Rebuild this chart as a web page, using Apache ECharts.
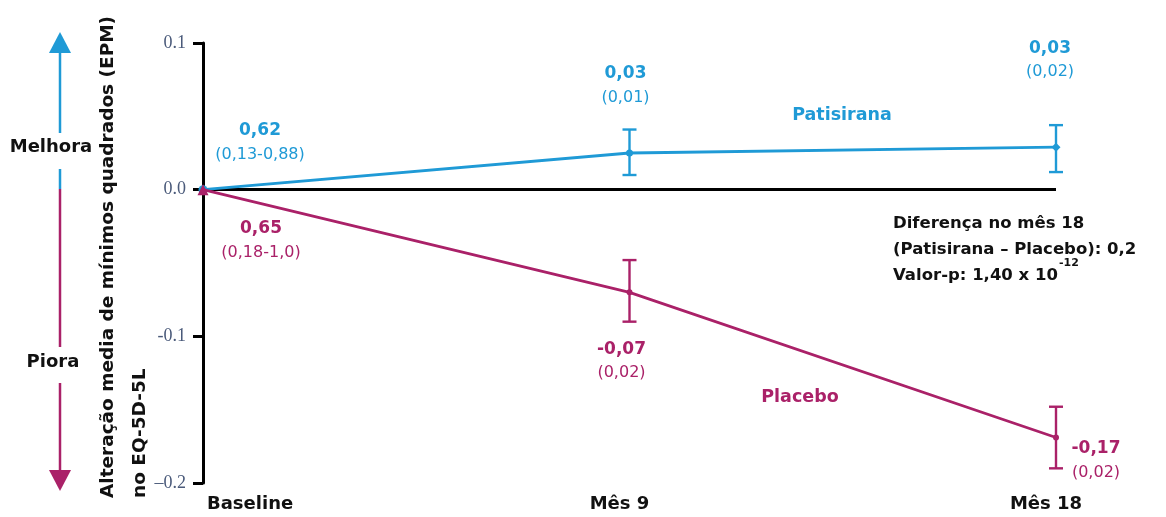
<!DOCTYPE html>
<html>
<head>
<meta charset="utf-8">
<script src="https://cdn.jsdelivr.net/npm/echarts@6/dist/echarts.min.js"></script>
<style>
html,body{margin:0;padding:0;background:#fff;}
#chart{width:1166px;height:517px;}
</style>
</head>
<body>
<div id="chart"></div>
<script>
// ---- data ----
const categories = ['Baseline', 'Mês 9', 'Mês 18'];
const patisirana = [0, 0.025, 0.029];
const patisiranaLow = [null, 0.010, 0.012];
const patisiranaHigh = [null, 0.041, 0.044];
const placebo = [0, -0.070, -0.169];
const placeboLow = [null, -0.090, -0.190];
const placeboHigh = [null, -0.048, -0.148];
const patisiranaMain = ['0,62', '0,03', '0,03'];
const patisiranaSub = ['(0,13-0,88)', '(0,01)', '(0,02)'];
const placeboMain = ['0,65', '-0,07', '-0,17'];
const placeboSub = ['(0,18-1,0)', '(0,02)', '(0,02)'];
const yTickValues = [-0.2, -0.1, 0.0, 0.1];
const yTickLabels = ['\u20130.2', '-0.1', '0.0', '0.1'];
const seriesNames = ['Patisirana', 'Placebo'];
const axisTitle = ['Alteração media de mínimos quadrados (EPM)', 'no EQ-5D-5L'];
const noteLines = ['Diferença no mês 18', '(Patisirana \u2013 Placebo): 0,2', 'Valor-p: 1,40 x 10', '-12'];

// ---- style ----
const BLUE = '#1f9ad6';
const MAGENTA = '#aa2168';
const FONT = '"DejaVu Sans", Verdana, sans-serif';

const chart = echarts.init(document.getElementById('chart'));

function makeRich(color) {
  return {
    m: {fontFamily: FONT, fontWeight: 'bold', fontSize: 17, color: color, lineHeight: 24, align: 'center'},
    s: {fontFamily: FONT, fontSize: 16, color: color, lineHeight: 24, align: 'center'}
  };
}

const patOffsets = [[57, -47], [-4, -67], [-6, -87]];
const plaOffsets = [[58, 51], [-8, 69], [40, 23]];
const patSymbols = [['circle', 9], ['circle', 7], ['diamond', 9]];
const plaSymbols = [['triangle', 11], ['circle', 6], ['circle', 6]];

function buildData(values, mains, subs, offsets, symbols, color) {
  return values.map((v, i) => ({
    value: v,
    symbol: symbols[i][0],
    symbolSize: symbols[i][1],
    label: {
      show: true,
      position: 'inside',
      offset: offsets[i],
      formatter: '{m|' + mains[i] + '}\n{s|' + subs[i] + '}',
      rich: makeRich(color)
    }
  }));
}

function errData(low, high) {
  const out = [];
  for (let i = 0; i < low.length; i++) {
    if (low[i] !== null) out.push([i, low[i], high[i]]);
  }
  return out;
}

function errRender(color) {
  return function (params, api) {
    const x = api.value(0);
    const lo = api.coord([x, api.value(1)]);
    const hi = api.coord([x, api.value(2)]);
    const w = 7;
    const st = {stroke: color, lineWidth: 2.4};
    return {
      type: 'group',
      children: [
        {type: 'line', shape: {x1: lo[0], y1: lo[1], x2: hi[0], y2: hi[1]}, style: st},
        {type: 'line', shape: {x1: lo[0] - w, y1: lo[1], x2: lo[0] + w, y2: lo[1]}, style: st},
        {type: 'line', shape: {x1: hi[0] - w, y1: hi[1], x2: hi[0] + w, y2: hi[1]}, style: st}
      ]
    };
  };
}

const option = {
  animation: false,
  backgroundColor: '#fff',
  grid: {left: 203, right: 110, top: 43, bottom: 34, containLabel: false},
  xAxis: {
    type: 'category',
    data: categories,
    boundaryGap: false,
    axisLine: {show: false},
    axisTick: {show: false},
    splitLine: {show: false},
    axisLabel: {
      margin: 12,
      fontFamily: FONT,
      fontWeight: 'bold',
      fontSize: 18,
      color: '#111',
      alignMinLabel: 'left',
      padding: [0, 24, 0, 4]
    }
  },
  yAxis: {
    type: 'value',
    min: yTickValues[0],
    max: yTickValues[yTickValues.length - 1],
    interval: 0.1,
    axisLine: {show: true, lineStyle: {color: '#000', width: 3}},
    axisTick: {show: true, length: 10, lineStyle: {color: '#000', width: 3}},
    splitLine: {show: false},
    axisLabel: {
      margin: 17,
      fontFamily: '"Liberation Serif", "Times New Roman", serif',
      fontSize: 18,
      color: '#4a5a7a',
      formatter: function (v) {
        const idx = yTickValues.findIndex(t => Math.abs(t - v) < 1e-9);
        return idx >= 0 ? yTickLabels[idx] : '';
      }
    }
  },
  series: [
    {
      name: seriesNames[0],
      type: 'line',
      data: buildData(patisirana, patisiranaMain, patisiranaSub, patOffsets, patSymbols, BLUE),
      lineStyle: {color: BLUE, width: 2.8},
      itemStyle: {color: BLUE},
      z: 4,
      markLine: {
        silent: true,
        symbol: ['none', 'none'],
        label: {show: false},
        lineStyle: {color: '#000', width: 3, type: 'solid'},
        data: [{yAxis: 0}],
        z: 1
      }
    },
    {
      name: seriesNames[1],
      type: 'line',
      data: buildData(placebo, placeboMain, placeboSub, plaOffsets, plaSymbols, MAGENTA),
      lineStyle: {color: MAGENTA, width: 2.8},
      itemStyle: {color: MAGENTA},
      z: 5
    },
    {
      type: 'custom',
      renderItem: errRender(BLUE),
      data: errData(patisiranaLow, patisiranaHigh),
      encode: {x: 0, y: [1, 2]},
      z: 3
    },
    {
      type: 'custom',
      renderItem: errRender(MAGENTA),
      data: errData(placeboLow, placeboHigh),
      encode: {x: 0, y: [1, 2]},
      z: 3
    }
  ],
  graphic: [
    // y axis title
    {
      type: 'text', x: 124, y: 498, rotation: Math.PI / 2,
      style: {
        text: axisTitle.join('\n'),
        fontFamily: FONT, fontWeight: 'bold', fontSize: 18.5, lineHeight: 32,
        fill: '#111', textAlign: 'left', textVerticalAlign: 'middle'
      }
    },
    // improvement arrow
    {type: 'line', shape: {x1: 60, y1: 52, x2: 60, y2: 133}, style: {stroke: BLUE, lineWidth: 2.5}},
    {type: 'polygon', shape: {points: [[60, 32], [49, 53], [71, 53]]}, style: {fill: BLUE}},
    {type: 'text', x: 51, y: 147, style: {text: 'Melhora', fontFamily: FONT, fontWeight: 'bold', fontSize: 18, fill: '#111', textAlign: 'center', textVerticalAlign: 'middle'}},
    {type: 'line', shape: {x1: 60, y1: 169, x2: 60, y2: 189}, style: {stroke: BLUE, lineWidth: 2.5}},
    {type: 'line', shape: {x1: 60, y1: 189, x2: 60, y2: 347}, style: {stroke: MAGENTA, lineWidth: 2.5}},
    {type: 'text', x: 53, y: 362, style: {text: 'Piora', fontFamily: FONT, fontWeight: 'bold', fontSize: 18, fill: '#111', textAlign: 'center', textVerticalAlign: 'middle'}},
    {type: 'line', shape: {x1: 60, y1: 383, x2: 60, y2: 472}, style: {stroke: MAGENTA, lineWidth: 2.5}},
    {type: 'polygon', shape: {points: [[60, 491], [49, 470], [71, 470]]}, style: {fill: MAGENTA}},
    // series names
    {type: 'text', x: 842, y: 115, style: {text: seriesNames[0], fontFamily: FONT, fontWeight: 'bold', fontSize: 17.5, fill: BLUE, textAlign: 'center', textVerticalAlign: 'middle'}},
    {type: 'text', x: 800, y: 397, style: {text: seriesNames[1], fontFamily: FONT, fontWeight: 'bold', fontSize: 17.5, fill: MAGENTA, textAlign: 'center', textVerticalAlign: 'middle'}},
    // note
    {
      type: 'text', x: 893, y: 206,
      style: {
        text: '{a|' + noteLines[0] + '}\n{a|' + noteLines[1] + '}\n{a|' + noteLines[2] + '}{sup|' + noteLines[3] + '}',
        textAlign: 'left', textVerticalAlign: 'top',
        rich: {
          a: {fontFamily: FONT, fontWeight: 'bold', fontSize: 16.5, fill: '#111', color: '#111', lineHeight: 26, verticalAlign: 'bottom'},
          sup: {fontFamily: FONT, fontWeight: 'bold', fontSize: 11, fill: '#111', color: '#111', lineHeight: 26, verticalAlign: 'top', padding: [0, 0, 0, 1]}
        }
      }
    }
  ]
};
chart.setOption(option);
</script>
</body>
</html>
